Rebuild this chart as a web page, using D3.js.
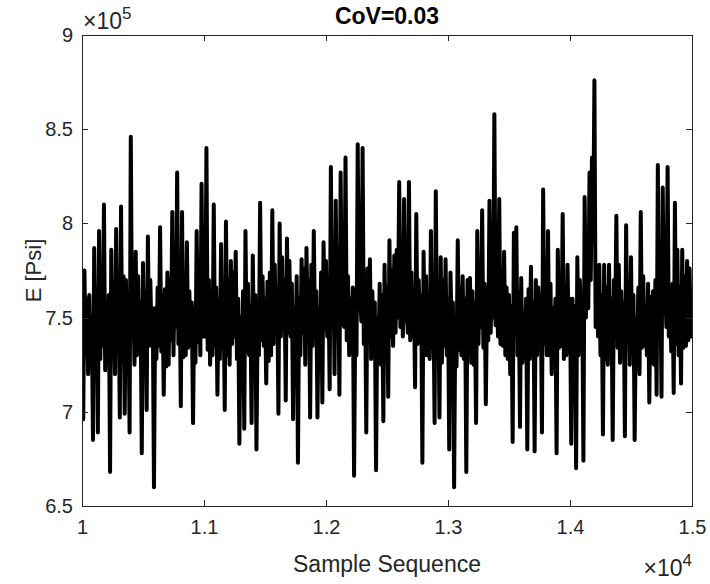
<!DOCTYPE html>
<html>
<head>
<meta charset="utf-8">
<script src="https://cdn.jsdelivr.net/npm/d3@7"></script>
<style>
  html, body { margin: 0; padding: 0; background: #fff; }
  svg { display: block; font-family: "Liberation Sans", Arial, sans-serif; }
  .axis path, .axis line { stroke: #262626; stroke-width: 1; shape-rendering: crispEdges; }
  .axis text { fill: #262626; font-size: 20px; }
</style>
</head>
<body>
<svg id="chart" width="710" height="584"></svg>
<script>
// E [Psi] in units of 1e5, one reading every 10 samples from 10000 to 15000
const SAMPLE_START = 10000;
const SAMPLE_STEP = 10;
const E_e5 = [
  7.55, 6.96, 7.75, 7.30, 7.60, 7.20, 7.62, 7.25, 7.50, 6.85,
  7.87, 7.35, 7.65, 6.89, 7.96, 7.28, 7.70, 7.35, 8.10, 7.22,
  7.55, 7.38, 7.62, 6.68, 7.86, 7.30, 7.68, 7.20, 7.97, 7.33,
  7.58, 6.97, 8.09, 7.26, 7.72, 6.99, 7.70, 7.36, 7.60, 6.89,
  8.46, 7.40, 7.66, 7.25, 7.85, 7.30, 7.72, 7.40, 7.58, 6.78,
  7.79, 7.27, 7.64, 7.01, 7.93, 7.35, 7.70, 7.40, 7.55, 6.60,
  7.55, 7.28, 7.66, 7.35, 7.98, 7.32, 7.62, 7.09, 7.65, 7.24,
  7.74, 7.25, 7.70, 7.38, 8.06, 7.30, 7.76, 7.45, 8.27, 7.36,
  7.68, 7.03, 8.06, 7.29, 7.72, 7.30, 7.90, 7.34, 7.64, 7.35,
  7.58, 6.94, 7.55, 7.26, 7.96, 7.37, 7.75, 7.30, 8.21, 7.40,
  7.80, 7.40, 8.40, 7.33, 7.70, 7.25, 7.60, 7.30, 8.10, 7.35,
  7.66, 7.09, 7.60, 7.28, 7.89, 7.34, 7.62, 7.01, 8.01, 7.30,
  7.70, 7.25, 7.80, 7.36, 7.74, 7.40, 7.85, 7.28, 7.60, 6.83,
  7.50, 7.24, 7.64, 6.91, 7.96, 7.32, 7.68, 7.30, 7.56, 6.94,
  7.83, 7.26, 7.62, 6.80, 7.50, 7.30, 8.11, 7.38, 7.72, 7.35,
  7.60, 7.15, 7.69, 7.27, 7.74, 7.30, 8.07, 7.36, 7.78, 7.40,
  7.66, 6.99, 8.00, 7.40, 7.82, 7.45, 7.70, 7.06, 7.92, 7.42,
  7.80, 7.40, 7.68, 6.96, 7.55, 7.35, 7.72, 6.73, 7.61, 7.30,
  7.81, 7.42, 7.76, 7.25, 7.87, 7.45, 7.70, 6.97, 7.78, 7.35,
  7.96, 7.40, 7.64, 6.97, 7.55, 7.36, 7.74, 7.05, 7.90, 7.44,
  7.80, 7.40, 7.70, 7.12, 8.30, 7.45, 7.82, 7.20, 8.12, 7.40,
  7.75, 7.09, 8.27, 7.46, 7.85, 7.45, 8.35, 7.38, 7.72, 7.30,
  7.60, 7.32, 7.66, 6.66, 7.50, 7.30, 8.42, 7.55, 7.60, 7.48,
  8.40, 7.36, 7.70, 6.89, 7.76, 7.45, 7.81, 7.28, 7.64, 7.30,
  7.58, 6.69, 7.50, 7.26, 7.68, 7.25, 7.62, 6.95, 7.78, 7.34,
  7.66, 7.08, 7.91, 7.40, 7.75, 7.35, 7.83, 7.42, 7.86, 7.50,
  8.22, 7.45, 7.70, 7.40, 8.13, 7.48, 7.60, 7.42, 8.22, 7.38,
  7.74, 7.40, 7.66, 7.13, 8.05, 7.36, 7.70, 7.40, 7.62, 6.73,
  7.85, 7.30, 7.72, 7.30, 7.55, 7.28, 7.96, 7.34, 7.64, 6.94,
  8.17, 7.32, 7.68, 6.97, 7.82, 7.26, 7.70, 7.35, 7.81, 7.30,
  7.60, 6.80, 7.74, 7.45, 7.58, 6.60, 7.50, 7.24, 7.91, 7.33,
  7.66, 7.30, 7.72, 7.28, 7.60, 6.68, 7.70, 7.40, 7.71, 7.26,
  7.64, 7.25, 7.58, 6.94, 7.96, 7.36, 7.76, 7.45, 8.07, 7.34,
  7.68, 7.04, 7.60, 7.38, 8.12, 7.42, 7.80, 7.50, 8.58, 7.46,
  7.60, 7.40, 8.13, 7.36, 7.74, 7.35, 7.85, 7.30, 7.66, 7.28,
  7.62, 7.20, 7.56, 6.84, 7.95, 7.40, 7.98, 7.30, 7.64, 6.92,
  7.71, 7.26, 7.50, 7.32, 7.60, 6.80, 7.65, 7.28, 7.77, 7.34,
  7.58, 6.79, 7.70, 7.30, 7.66, 7.42, 7.62, 6.89, 8.18, 7.36,
  7.72, 7.30, 7.96, 7.30, 7.68, 7.20, 7.55, 7.26, 7.60, 6.78,
  7.86, 7.34, 7.70, 7.35, 8.05, 7.28, 7.66, 7.30, 7.78, 7.32,
  7.60, 6.83, 7.60, 7.24, 7.56, 6.70, 7.82, 7.30, 7.70, 7.50,
  7.62, 6.74, 8.14, 7.50, 7.80, 7.55, 8.27, 7.70, 8.35, 7.90,
  8.76, 7.45, 7.70, 7.40, 7.78, 7.30, 7.62, 6.88, 7.78, 7.28,
  7.66, 7.25, 7.78, 7.32, 7.60, 6.85, 7.70, 7.45, 8.04, 7.34,
  7.78, 7.26, 7.64, 7.30, 7.58, 6.87, 7.99, 7.36, 7.68, 7.25,
  7.82, 7.30, 7.62, 6.85, 7.50, 7.28, 7.66, 7.20, 8.06, 7.34,
  7.72, 7.35, 7.55, 7.30, 7.68, 7.05, 7.61, 7.26, 7.64, 7.25,
  7.70, 7.09, 8.31, 7.40, 7.74, 7.08, 8.19, 7.52, 7.70, 7.45,
  8.30, 7.40, 7.55, 7.32, 7.68, 7.10, 8.11, 7.36, 7.86, 7.30,
  7.66, 7.15, 7.86, 7.34, 7.72, 7.35, 7.80, 7.38, 7.76, 7.40,
  7.60
];

const X_TICKS = [10000, 11000, 12000, 13000, 14000, 15000];
const X_TICK_LABELS = ["1", "1.1", "1.2", "1.3", "1.4", "1.5"];
const Y_TICKS = [6.5, 7, 7.5, 8, 8.5, 9];
const Y_TICK_LABELS = ["6.5", "7", "7.5", "8", "8.5", "9"];

const TITLE = "CoV=0.03";
const X_LABEL = "Sample Sequence";
const Y_LABEL = "E [Psi]";

const samples = E_e5.map((v, i) => ({ s: SAMPLE_START + i * SAMPLE_STEP, e: v }));

const margin = { left: 82, right: 18, top: 35, bottom: 78 };
const W = 710, H = 584;
const iw = W - margin.left - margin.right, ih = H - margin.top - margin.bottom;

const svg = d3.select("#chart");
const g = svg.append("g").attr("transform", `translate(${margin.left},${margin.top})`);

const x = d3.scaleLinear().domain([10000, 15000]).range([0, iw]);
const y = d3.scaleLinear().domain([6.5, 9]).range([ih, 0]);

g.append("defs").append("clipPath").attr("id", "plotclip")
  .append("rect").attr("x", 0).attr("y", 0).attr("width", iw).attr("height", ih);

// data line
const line = d3.line().x(d => x(d.s)).y(d => y(d.e));
g.append("path")
  .datum(samples)
  .attr("clip-path", "url(#plotclip)")
  .attr("fill", "none")
  .attr("stroke", "#000")
  .attr("stroke-width", 4)
  .attr("stroke-linejoin", "round")
  .attr("stroke-linecap", "round")
  .attr("d", line);

// axes, ticks pointing inward, mirrored on top/right like a boxed plot
const xFmt = d => X_TICK_LABELS[X_TICKS.indexOf(d)];
const yFmt = d => Y_TICK_LABELS[Y_TICKS.indexOf(d)];

g.append("g").attr("class", "axis")
  .attr("transform", `translate(0,${ih})`)
  .call(d3.axisBottom(x).tickValues(X_TICKS).tickFormat(xFmt).tickSizeInner(-6).tickSizeOuter(0).tickPadding(14));
g.append("g").attr("class", "axis")
  .call(d3.axisTop(x).tickValues(X_TICKS).tickFormat("").tickSizeInner(-6).tickSizeOuter(0));
g.append("g").attr("class", "axis")
  .call(d3.axisLeft(y).tickValues(Y_TICKS).tickFormat(yFmt).tickSizeInner(-6).tickSizeOuter(0).tickPadding(9));
g.append("g").attr("class", "axis")
  .attr("transform", `translate(${iw},0)`)
  .call(d3.axisRight(y).tickValues(Y_TICKS).tickFormat("").tickSizeInner(-6).tickSizeOuter(0));

// exponent markers
const yExp = g.append("text").attr("x", 1).attr("y", -6).attr("fill", "#262626").style("font-size", "23px");
yExp.append("tspan").text("\u00d710");
yExp.append("tspan").attr("dy", -10).style("font-size", "17px").text("5");

const xExp = g.append("text").attr("x", iw).attr("y", ih + 70).attr("text-anchor", "end")
  .attr("fill", "#262626").style("font-size", "23px");
xExp.append("tspan").text("\u00d710");
xExp.append("tspan").attr("dy", -10).style("font-size", "17px").text("4");

// title and labels
svg.append("text")
  .attr("x", margin.left + iw / 2).attr("y", 24)
  .attr("text-anchor", "middle")
  .attr("fill", "#000")
  .style("font-size", "23px").style("font-weight", "bold")
  .text(TITLE);

svg.append("text")
  .attr("x", margin.left + iw / 2).attr("y", 572)
  .attr("text-anchor", "middle")
  .attr("fill", "#262626")
  .style("font-size", "23px")
  .text(X_LABEL);

svg.append("text")
  .attr("transform", `translate(41,${margin.top + ih / 2}) rotate(-90)`)
  .attr("text-anchor", "middle")
  .attr("fill", "#262626")
  .style("font-size", "22px")
  .text(Y_LABEL);
</script>
</body>
</html>
